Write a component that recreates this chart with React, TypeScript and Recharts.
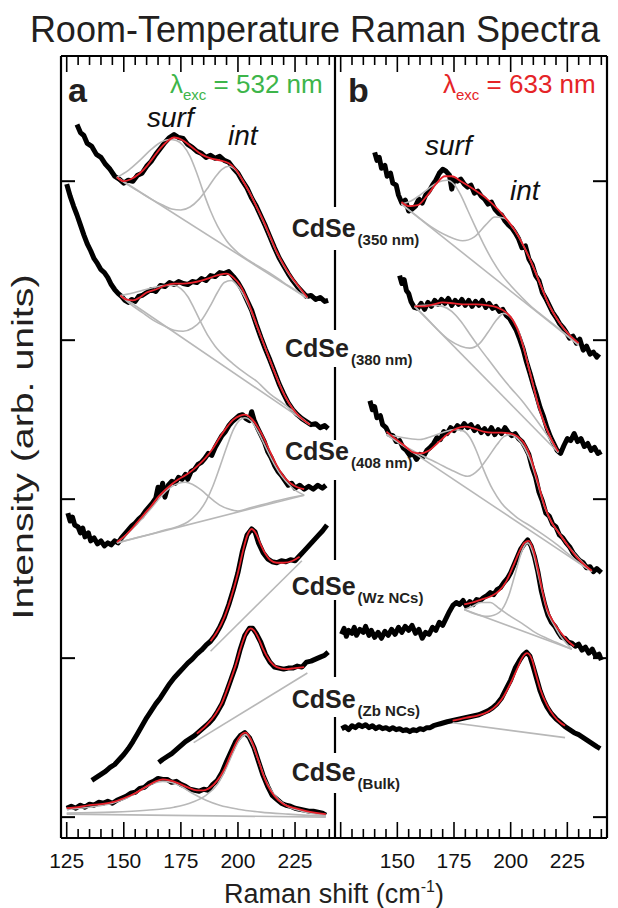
import React from 'react'
import { LineChart, Line, XAxis, YAxis } from 'recharts'

type Pt = [number, number]

// axis ticks: Raman shift (cm-1) and intensity (arb. units)
const xTicks = [125, 130, 135, 140, 145, 150, 155, 160, 165, 170, 175, 180, 185, 190, 195, 200, 205, 210, 215, 220, 225, 230, 235, 240]
const xMajor = [125, 150, 175, 200, 225]
const yTicks = [0, 160, 320, 480, 640]

// ---- panel a (532 nm) ----
const a350Raw: Pt[] = [[129.5,697],[131,689],[132.5,686],[134,678],[136,675],[138,667],[140,664],[142,657],[144,652],[146,645],[148,642],[150,638],[152,641],[154,640],[156,646],[158,648],[160,655],[162,660],[164,667],[166,673],[168,679],[170,684],[172,687],[174,684],[176,683],[178,677],[180,674],[182,670],[184,668],[186,664],[188,666],[190,663],[192,665],[194,661],[196,659],[198,653],[200,648],[202,640],[204,633],[206,623],[208,615],[210,605],[212,595],[214,584],[216,573],[218,563],[220,555],[222,547],[224,540],[226,534],[228,529],[230,524],[232,525],[234,521],[236,523],[238,519],[239.5,520]]
const a350Fit: Pt[] = [[147,644],[150,640],[153,642],[157,648],[160,655],[163,664],[166,673],[169,680],[172,684],[176,681],[180,674],[184,667],[188,663],[192,661],[196,658],[199,652],[202,641],[205,629],[208,615],[211,601],[214,585],[217,569],[220,556],[223,545],[226,536],[230.4,523]]
const a350Base: Pt[] = [[147,644],[230.4,522]]
const a350Surf: Pt[] = [[147,644],[152,651],[157,661],[162,672],[166,679],[170,682],[173,681],[176,676],[179,665],[182,648],[185,628],[188,610],[191,595],[195,580],[200,568],[205,560],[210,553],[215,546],[220,538],[225,530.5],[230.4,522]]
const a350Int: Pt[] = [[147,644],[152,636],[157,629],[162,622],[167,616],[171,612],[175,611],[179,614],[183,622],[187,634],[190,644],[193,652],[196,655],[199,651],[202,641],[205,629],[208,615],[211,600],[214,584],[217,568],[220,555],[223,544],[226,535],[230.4,522]]

const a380Raw: Pt[] = [[125,637],[126.5,625],[128,615],[129.5,606],[131,596],[132.5,586],[134,577],[135.5,570],[137,562],[138.5,557],[140,551],[141.5,548],[143,543],[144.5,536],[146,531],[147.5,527],[149,524],[150.5,520],[152,518],[153.5,521],[155,519],[156.5,524],[158,525],[160,528],[162,531],[164,529],[166,535],[168,534],[170,538],[172,536],[174,539],[176,537],[178,536],[180,539],[182,538],[184,542],[186,540],[188,545],[190,544],[192,548],[194,547],[196,549],[198,544],[200,538],[202,530],[204,520],[206,510],[208,496],[210,483],[212,471],[214,460],[216,448],[218,436],[220,426],[222,417],[224,410],[226,405],[228,401],[230,398],[232,395],[234,396],[236,392],[238,394],[239.5,391]]
const a380Fit: Pt[] = [[148.5,525],[151,521],[154,520],[157,523],[160,528],[164,531],[168,535],[172,537],[176,537],[180,538],[184,540],[188,543],[192,546],[195,547],[198,543],[201,535],[204,521],[207,503],[210,484],[213,466],[216,448],[219,431],[222,418],[225,408],[228,401],[231.5,395]]
const a380Base: Pt[] = [[148.5,525],[231.5,395]]
const a380Surf: Pt[] = [[148.5,525],[153,527],[158,530],[163,533],[168,535],[172,535],[175,532],[178,524],[181,511],[184,497],[187,484],[190,474],[194,464],[198,456],[203,447],[208,439],[214,426],[220,416],[226,405],[231.5,395]]
const a380Int: Pt[] = [[148.5,525],[153,516],[158,508],[163,500],[168,494],[172,490],[176,489],[180,492],[184,500],[188,515],[191,528],[194,538],[197,540],[200,534],[203,523],[206,508],[209,490],[212,472],[215,454],[218,437],[221,422],[224,411],[227,403],[231.5,395]]

const a408Raw: Pt[] = [[125.5,306],[126.5,298],[127.5,302],[128.5,294],[130,292],[131,286],[132,291],[133,282],[134.5,286],[135.5,278],[137,281],[138.5,275],[140,278],[141.5,273],[143,276],[144.5,274],[146,278],[147.5,276],[149,281],[150.5,285],[152,289],[153.5,293],[155,296],[156.5,300],[158,303],[159.5,308],[161,312],[162.5,316],[164,321],[165,332],[166,326],[167,336],[168,322],[169.5,334],[171,338],[172.5,336],[174,342],[175.5,340],[177,345],[178,340],[179.5,348],[181,350],[182.5,355],[184,357],[185.5,361],[187,366],[188.5,364],[190,372],[191.5,378],[193,384],[194.5,388],[196,394],[197.5,398],[199,401],[200.5,404],[202,405],[203.5,401],[205,399],[206,408],[207,400],[208.5,392],[210,385],[211.5,378],[213,368],[214.5,362],[216,354],[217.5,348],[219,344],[220.5,339],[222,334],[223.5,336],[225,331],[227,334],[229,330],[231,333],[233,330],[235,334],[237,331],[238.5,334]]
const a408Fit: Pt[] = [[147,277],[150,282],[153,289],[156,297],[159,305],[162,313],[165,322],[168,329],[171,335],[174,340],[177,344],[180,349],[183,355],[186,362],[189,371],[192,382],[195,392],[198,400],[201,404],[203,405],[205,403],[208,395],[211,383],[214,368],[217,354],[220,343],[223,336],[226,332],[229,330]]
const a408Base: Pt[] = [[147,276],[229,324]]
const a408Surf: Pt[] = [[147,276],[152,286],[157,298],[162,311],[166,322],[170,331],[174,336],[177,337],[180,335],[184,329],[188,321],[192,314],[196,310],[200,308],[205,311],[210,314],[215,317],[220,320],[225,322.5],[229,324]]
const a408Int: Pt[] = [[147,276],[155,281],[162,285],[168,289],[173,292],[178,297],[182,305],[186,318],[189,333],[192,352],[195,372],[198,390],[201,400],[203,402],[206,398],[209,387],[212,373],[215,359],[218,347],[221,338],[224,331],[229,324]]

const aWzRaw: Pt[] = [[136,37],[138,40],[140,43],[142,46],[144,50],[146,53],[148,58],[150,63],[152,69],[154,76],[156,84],[158,92],[160,100],[162,107],[164,114],[166,120],[168,127],[170,134],[172,140],[174,145],[176,150],[178,155],[180,159],[182,164],[184,168],[186,173],[188,177],[190,183],[192,191],[194,201],[196,214],[198,229],[200,246],[202,268],[204,284],[206,290],[207.5,287],[209,276],[211,266],[213,260],[215,257],[217,256],[219,258],[221,257],[223,259],[225,258],[227,263],[229,268],[231,273],[233,278],[235,283],[237,288],[239,294]]
const aWzFit: Pt[] = [[188,177],[191,187],[194,201],[197,221],[200,246],[202,266],[204,283],[206,290],[208,285],[210,274],[212,265],[214,259],[217,256],[220,256],[224,258],[227,262]]
const aWzBase: Pt[] = [[188,167],[228,258]]

const aZbRaw: Pt[] = [[165.3,55],[167,58],[169,61],[171,64],[173,68],[175,72],[177,76],[179,79],[181,82],[183,86],[185,90],[187,94],[189,99],[191,106],[193,114],[195,126],[197,139],[199,152],[201,169],[203,183],[205,190],[206.5,190],[208,185],[210,176],[212,164],[214,156],[216,151],[218,150],[220,149],[222,150],[224,150],[226,152],[228,151],[230,156],[232,157],[234,159],[236,161],[238,163],[239.5,166]]
const aZbFit: Pt[] = [[182,84],[186,92],[190,103],[193,115],[196,133],[199,153],[202,176],[204,187],[205.5,190],[207,188],[209,180],[211,169],[214,157],[217,151],[221,149],[225,150],[229,151]]
const aZbBase: Pt[] = [[180.6,75],[230.4,145]]

const aBulkRaw: Pt[] = [[125,9],[127,11],[129,9],[131,12],[133,10],[135,13],[137,12],[139,15],[141,14],[143,16],[145,14],[147,17],[149,19],[151,21],[153,24],[155,25],[157,29],[159,30],[161,34],[163,36],[165,39],[167,38],[169,38],[171,35],[173,36],[175,33],[177,31],[179,28],[181,27],[183,26],[185,28],[187,27],[189,33],[191,37],[193,45],[195,56],[197,66],[199,76],[201,82],[203,85],[205,80],[207,70],[209,56],[211,42],[213,31],[215,22],[217,18],[219,14],[221,12],[223,11],[225,9],[227,8],[229,7],[231,6],[233,6],[235,5],[237,4],[238.5,2]]
const aBulkFit: Pt[] = [[125,9],[130,10],[135,12],[140,13],[145,15],[150,19],[155,24],[160,31],[164,36],[167,38],[170,37],[174,34],[178,30],[182,27],[185,27],[188,30],[191,37],[194,48],[197,64],[200,78],[202,84],[203.5,85],[205,81],[207,71],[209,57],[211,43],[213,32],[216,21],[220,13],[225,9],[230,6],[238.5,3]]
const aBulkBase: Pt[] = [[125,3],[238.5,0]]
const aBulkSurf: Pt[] = [[125,8],[135,10],[145,14],[152,20],[158,28],[163,34],[167,36],[171,35],[175,31],[180,24],[186,17],[192,12],[200,8],[210,5],[222,3],[238.5,1]]
const aBulkInt: Pt[] = [[125,4],[145,5],[160,7],[172,10],[180,15],[186,22],[191,33],[195,50],[198,66],[201,79],[203.5,83],[206,75],[209,57],[212,38],[216,22],[221,12],[228,6],[238.5,2]]

// ---- panel b (633 nm) ----
const b350Raw: Pt[] = [[140,669],[141,661],[142,664],[143,653],[144.5,656],[145.5,645],[147,648],[148,638],[149.5,636],[150.5,626],[152,618],[153.5,621],[155,610],[156.5,612],[158,615],[159.5,622],[161,618],[162.5,626],[164,630],[165.5,636],[167,641],[168.5,648],[170,652],[171.5,650],[173,646],[174,632],[175,642],[176.5,640],[178,642],[179.5,637],[181,634],[182.5,636],[184,628],[185.5,630],[187,625],[188.5,622],[190,617],[191.5,619],[193,612],[194.5,608],[196,606],[197.5,600],[199,596],[200.5,593],[202,588],[203.5,582],[205,573],[206.5,575],[208,562],[209.5,556],[211,545],[212.5,540],[214,528],[215.5,522],[217,515],[218.5,508],[220,503],[221.5,497],[223,493],[224.5,488],[226,482],[227.5,484],[229,477],[230.5,481],[232,470],[233.5,474],[235,466],[236.5,468],[238,463],[239,466]]
const b350Fit: Pt[] = [[151.8,619],[155,615],[159,616],[163,625],[167,637],[171,645],[174,645],[178,640],[183,633],[188,625],[193,615],[197,605],[202,590],[205,578],[208,564],[211,548],[214,531],[217,515],[220,503],[223,493],[226,485],[230,477]]
const b350Base: Pt[] = [[151.8,617],[230,475]]
const b350Surf: Pt[] = [[151.8,617],[156,620],[160,626],[164,633],[168,639],[172,641],[175,637],[178,626],[181,611],[184,596],[188,577],[192,560],[196,546],[200,535],[205,523],[210,512],[215,503],[220,494],[225,484.5],[230,475]]
const b350Int: Pt[] = [[151.8,617],[158,606],[165,594],[172,585],[178.8,580],[184,584],[189,596],[193,604],[197,603],[201,593],[205,578],[208,564],[211,548],[214,531],[217,515],[220,503],[223,493],[226,485],[230,476]]

const b380Raw: Pt[] = [[151,545],[152,537],[153,541],[154,530],[155,527],[156,519],[157.5,513],[159,512],[160.5,517],[162,511],[163.5,518],[165,514],[166.5,520],[168,516],[169.5,521],[171,517],[172.5,522],[174,515],[175.5,520],[177,516],[178.5,521],[180,515],[181.5,520],[183,514],[184.5,519],[186,515],[187.5,520],[189,513],[190.5,517],[192,512],[193.5,514],[195,509],[196.5,511],[198,505],[199.5,502],[201,496],[202.5,490],[204,481],[205.5,471],[207,458],[208.5,447],[210,435],[211.5,424],[213,412],[214.5,403],[216,392],[217.5,383],[219,376],[220.5,369],[222,366],[223.5,374],[225,381],[226.5,379],[228,386],[229.5,378],[231,381],[232.5,373],[234,376],[235.5,369],[237,372],[238.5,366],[240,368]]
const b380Fit: Pt[] = [[157.6,514],[162,514],[166,516],[170,518],[175,517],[180,516],[185,516],[190,515],[194,513],[198,508],[201,500],[204,485],[206,470],[208,452],[210,434],[212,416],[214,402],[216,390],[218,380],[221,368]]
const b380Base: Pt[] = [[157.6,514],[221,367]]
const b380Surf: Pt[] = [[157.6,514],[162,515],[166,515],[170,514],[174,509],[178,499],[182,486],[186,473],[190,461],[195,446],[200,432],[205,419],[210,404],[215,388],[221,367]]
const b380Int: Pt[] = [[157.6,514],[163,502],[168,490],[173,480],[178,474],[182,472],[186,476],[190,488],[194,501],[197,507],[200,503],[203,492],[206,470],[208,452],[210,434],[212,416],[214,402],[216,390],[218,380],[221,367]]

const b408Raw: Pt[] = [[137.9,419],[139,410],[140,413],[141,402],[142.5,404],[143.5,395],[145,392],[146.5,385],[148,384],[149.5,378],[151,379],[152.5,372],[154,369],[155.5,364],[157,366],[158.5,360],[160,365],[161.5,363],[163,369],[164.5,372],[166,376],[167.5,382],[169,380],[170.5,388],[172,386],[173.5,392],[175,389],[176.5,394],[178,391],[179.5,396],[181,392],[182.5,395],[184,389],[185.5,393],[187,387],[188.5,391],[190,386],[191.5,392],[193,385],[194.5,390],[196,386],[197.5,392],[199,387],[200.5,384],[202,386],[203.5,381],[205,378],[206.5,372],[208,365],[209.5,352],[211,342],[212.5,327],[214,318],[215.5,306],[217,303],[218.5,295],[220,292],[221.5,284],[223,281],[224.5,276],[226,272],[227.5,266],[229,262],[230.5,258],[232,256],[233.5,251],[235,252],[236.5,247],[238,250],[240,246]]
const b408Fit: Pt[] = [[145.2,388],[149,381],[153,374],[157,367],[160,366],[164,369],[168,377],[172,385],[176,391],[180,393],[184,391],[188,388],[192,387],[196,387],[200,386],[203,383],[206,376],[209,361],[212,337],[215,313],[218,297],[221,287],[225,274],[229,262],[233,253],[235.8,248]]
const b408Base: Pt[] = [[145.2,385],[235.8,247]]
const b408Surf: Pt[] = [[145.2,385],[150,383],[155,381],[160,380],[165,383],[170,387],[175,390],[178.8,389],[182,382],[185,368],[188,350],[192,330],[196,316],[202,303],[210,291],[220,275],[228,260],[235.8,247]]
const b408Int: Pt[] = [[145.2,385],[152,375],[160,365],[168,356],[175,348],[181,343],[186,350],[190,362],[194,375],[197,383],[200,385],[203,381],[206,372],[209,357],[212,335],[215,312],[218,297],[221,287],[225,274],[229,263],[235.8,247]]

const bWzRaw: Pt[] = [[125.4,184],[126.5,190],[127.5,182],[128.5,188],[130,185],[131,191],[132,183],[133.5,189],[135,186],[136,192],[137.5,183],[138.5,188],[140,181],[141.5,186],[143,180],[144.5,187],[146,183],[147.5,189],[149,184],[150.5,191],[152,186],[153.5,192],[155,188],[156.5,193],[158,185],[159.5,189],[161,180],[162.5,186],[164,184],[165.5,191],[167,188],[168.5,196],[170,193],[171.5,200],[173,207],[174.5,213],[176,216],[177.5,214],[179,218],[180.5,212],[182,217],[183.5,214],[185,219],[186.5,218],[188,221],[189.5,223],[191,226],[192.5,224],[194,229],[195.5,231],[197,236],[198.5,240],[200,246],[201.5,254],[203,262],[204.5,270],[206,275],[207.5,279],[209,273],[210.5,262],[212,247],[213.5,228],[215,214],[216.5,203],[218,196],[219.5,192],[221,186],[222.5,181],[224,180],[225.5,176],[227,175],[228.5,172],[230,174],[231.5,168],[233,171],[234.5,165],[236,169],[237.5,162],[239,164],[240,158]]
const bWzFit: Pt[] = [[179.5,214],[183,216],[187,219],[191,222],[195,228],[198,237],[201,252],[204,268],[206,276],[208,278],[210,269],[212,250],[214,228],[216,210],[219,196],[222,186],[225,178],[228,172]]
const bWzBase: Pt[] = [[179.5,209],[227,169]]
const bWzSurf: Pt[] = [[179.5,209],[183,212],[187,216],[191,216],[195,210],[200,202],[205,195],[210,187],[215,181],[220,176],[227,169]]
const bWzInt: Pt[] = [[179.5,209],[185,204],[190,202],[195,206],[199,222],[202,245],[205,268],[207.5,276],[210,265],[212,246],[214,226],[216,208],[219,194],[222,182],[225,174],[227,169]]

const bZbRaw: Pt[] = [[125.4,89],[127,91],[128.5,88],[130,92],[131.5,90],[133,93],[134.5,91],[136,93],[137.5,90],[139,92],[140.5,89],[142,91],[143.5,89],[145,90],[146.5,88],[148,90],[149.5,88],[151,89],[152.5,87],[154,88],[155.5,86],[157,88],[158.5,87],[160,89],[161.5,88],[163,90],[164.5,90],[166,92],[167.5,93],[169,94],[170.5,95],[172,96],[174,97],[176,98],[178,99],[180,100],[182,101],[184,102],[186,103],[188,105],[190,107],[192,110],[194,114],[196,120],[198,129],[200,138],[202,150],[204,158],[205.5,163],[207,166],[208.5,162],[210,151],[211.5,139],[213,127],[214.5,118],[216,111],[218,104],[220,99],[222,95],[224,91],[226,88],[228,85],[230,83],[232,80],[234,77],[236,74],[238,71],[239.5,69]]
const bZbFit: Pt[] = [[174.4,97],[180,100],[185,102],[190,106],[194,113],[197,122],[200,135],[203,150],[205,160],[207.3,165],[209.5,158],[211,145],[213,129],[216,113],[219,102],[222,95],[224,92]]
const bZbBase: Pt[] = [[174.4,95],[224,80]]

type Spec = { id: string; raw: Pt[]; fit: Pt[]; parts: Pt[][] }

const panelA: Spec[] = [
  { id: 'a350', raw: a350Raw, fit: a350Fit, parts: [a350Base, a350Surf, a350Int] },
  { id: 'a380', raw: a380Raw, fit: a380Fit, parts: [a380Base, a380Surf, a380Int] },
  { id: 'a408', raw: a408Raw, fit: a408Fit, parts: [a408Base, a408Surf, a408Int] },
  { id: 'aWz', raw: aWzRaw, fit: aWzFit, parts: [aWzBase] },
  { id: 'aZb', raw: aZbRaw, fit: aZbFit, parts: [aZbBase] },
  { id: 'aBulk', raw: aBulkRaw, fit: aBulkFit, parts: [aBulkBase, aBulkSurf, aBulkInt] },
]

const panelB: Spec[] = [
  { id: 'b350', raw: b350Raw, fit: b350Fit, parts: [b350Base, b350Surf, b350Int] },
  { id: 'b380', raw: b380Raw, fit: b380Fit, parts: [b380Base, b380Surf, b380Int] },
  { id: 'b408', raw: b408Raw, fit: b408Fit, parts: [b408Base, b408Surf, b408Int] },
  { id: 'bWz', raw: bWzRaw, fit: bWzFit, parts: [bWzBase, bWzSurf, bWzInt] },
  { id: 'bZb', raw: bZbRaw, fit: bZbFit, parts: [bZbBase] },
]

const FONT = '"Liberation Sans", Arial, Helvetica, sans-serif'
const RED = '#e8212b'
const GRAY = '#b8b8b8'
const X_MIN = 122.5
const X_MAX = 242.5
// plot boxes of the two panels (page px), shared by the charts and the tick overlay
const PLOT_TOP = 56
const PLOT_BOTTOM = 838
const BOX_A = [61, 335]
const BOX_B = [335, 607]

const toPts = (arr: Pt[]) => arr.map(([x, v]) => ({ x, v }))

function lines(specs: Spec[]) {
  const out: React.ReactElement[] = []
  specs.forEach(s => out.push(
    <Line key={s.id + 'raw'} data={toPts(s.raw)} dataKey="v" xAxisId="bot" yAxisId="left" type="linear"
      stroke="#000" strokeWidth={5} strokeLinejoin="round" dot={false} isAnimationActive={false} />
  ))
  specs.forEach(s => s.parts.forEach((p, i) => out.push(
    <Line key={s.id + 'g' + i} data={toPts(p)} dataKey="v" xAxisId="bot" yAxisId="left"
      type={p.length > 2 ? 'monotone' : 'linear'} stroke={GRAY} strokeWidth={1.6} dot={false} isAnimationActive={false} />
  )))
  specs.forEach(s => out.push(
    <Line key={s.id + 'fit'} data={toPts(s.fit)} dataKey="v" xAxisId="bot" yAxisId="left" type="monotone"
      stroke={RED} strokeWidth={1.8} dot={false} isAnimationActive={false} />
  ))
  return out
}

const labelTick = (labels: number[]) => (props: any) => {
  const { x, y, payload } = props
  if (!labels.includes(payload.value)) return <g />
  return <text x={x} y={y + 30} textAnchor="middle" fontSize={21} fontFamily={FONT} fill="#111">{payload.value}</text>
}

const yTick = (dir: number) => (props: any) => {
  const { x, y } = props
  return <line x1={x} x2={x + dir * 14} y1={y} y2={y} stroke="#000" strokeWidth={2} />
}

const frame = { stroke: '#000', strokeWidth: 2.2 }

function Panel({ specs, left, width, margin, side }: { specs: Spec[]; left: number; width: number; margin: any; side: 'a' | 'b' }) {
  return (
    <div style={{ position: 'absolute', left, top: 0 }}>
      <LineChart width={width} height={908} margin={margin}>
        <XAxis xAxisId="bot" type="number" dataKey="x" domain={[X_MIN, X_MAX]} allowDataOverflow ticks={xMajor} interval={0}
          height={1} tickSize={0} tickMargin={0} tickLine={false} axisLine={frame}
          tick={labelTick(side === 'a' ? xMajor : [150, 175, 200, 225])} />
        <XAxis xAxisId="top" orientation="top" type="number" dataKey="x" domain={[X_MIN, X_MAX]} allowDataOverflow ticks={xMajor} interval={0}
          height={1} tickSize={0} tickMargin={0} tickLine={false} axisLine={frame} tick={false} />
        <YAxis yAxisId="left" type="number" domain={[-21, 766]} allowDataOverflow ticks={yTicks} interval={0} width={1}
          tickSize={0} tickMargin={0} tickLine={false}
          axisLine={side === 'a' ? frame : false}
          tick={side === 'a' ? yTick(1) : false} />
        <YAxis yAxisId="right" orientation="right" type="number" domain={[-21, 766]} allowDataOverflow ticks={yTicks} interval={0} width={1}
          tickSize={0} tickMargin={0} tickLine={false} axisLine={frame}
          tick={side === 'b' ? yTick(-1) : false} />
        {lines(specs)}
      </LineChart>
    </div>
  )
}

// inward x tick marks on the top and bottom frame edges of one panel
function TickComb({ box }: { box: number[] }) {
  const [x0, x1] = box
  return (
    <g stroke="#000" strokeWidth={1.6}>
      {xTicks.map(t => {
        const px = x0 + ((t - X_MIN) / (X_MAX - X_MIN)) * (x1 - x0)
        const len = xMajor.includes(t) ? 16 : 9
        return (
          <g key={t}>
            <line x1={px} x2={px} y1={PLOT_BOTTOM} y2={PLOT_BOTTOM - len} />
            <line x1={px} x2={px} y1={PLOT_TOP} y2={PLOT_TOP + len} />
          </g>
        )
      })}
    </g>
  )
}

const sampleLabels = [
  { x: 291.7, y: 237, sub: '(350 nm)' },
  { x: 285, y: 357, sub: '(380 nm)' },
  { x: 285, y: 460, sub: '(408 nm)' },
  { x: 291.7, y: 595, sub: '(Wz NCs)' },
  { x: 291.7, y: 708, sub: '(Zb NCs)' },
  { x: 291.7, y: 781, sub: '(Bulk)' },
]
const dividerGaps = [[207, 43], [330, 37], [440, 40], [560, 40], [677, 40], [753, 40]]

export default function App() {
  return (
    <div style={{ position: 'absolute', left: 0, top: 0, width: 618, height: 908, background: '#fff' }}>
      <Panel specs={panelA} side="a" left={0} width={345} margin={{ top: 55, left: 60, right: 9, bottom: 69 }} />
      <Panel specs={panelB} side="b" left={300} width={318} margin={{ top: 55, left: 34, right: 10, bottom: 69 }} />
      <svg width={618} height={908} style={{ position: 'absolute', left: 0, top: 0, pointerEvents: 'none' }} fontFamily={FONT}>
        <TickComb box={BOX_A} />
        <TickComb box={BOX_B} />
        <text x={315} y={42} textAnchor="middle" fontSize={36} fill="#231f20">Room-Temperature Raman Spectra</text>
        <text transform="translate(33,447) rotate(-90)" textAnchor="middle" fontSize={29} textLength={345}
          lengthAdjust="spacingAndGlyphs" fill="#231f20">Intensity (arb. units)</text>
        <text x={334} y={903} textAnchor="middle" fontSize={27} fill="#231f20">
          Raman shift (cm<tspan fontSize={16} dy={-11}>-1</tspan><tspan dy={11}>)</tspan>
        </text>
        <text x={68} y={102} fontSize={34} fontWeight="bold" fill="#231f20">a</text>
        <text x={348} y={102} fontSize={34} fontWeight="bold" fill="#231f20">b</text>
        <text x={170} y={93} fontSize={26} fill="#3db54a">
          λ<tspan fontSize={15} dy={7}>exc</tspan><tspan dy={-7}> = 532 nm</tspan>
        </text>
        <text x={443} y={93} fontSize={26} fill="#e52427">
          λ<tspan fontSize={15} dy={7}>exc</tspan><tspan dy={-7}> = 633 nm</tspan>
        </text>
        <text x={147} y={127} fontSize={28} fontStyle="italic" fill="#111">surf</text>
        <text x={228} y={145} fontSize={28} fontStyle="italic" fill="#111">int</text>
        <text x={425} y={155} fontSize={28} fontStyle="italic" fill="#111">surf</text>
        <text x={510} y={200} fontSize={28} fontStyle="italic" fill="#111">int</text>
        {dividerGaps.map(([y, h], i) => <rect key={i} x={330} y={y} width={10} height={h} fill="#fff" />)}
        {sampleLabels.map((l, i) => (
          <text key={i} x={l.x} y={l.y} fontSize={25} fontWeight="bold" fill="#231f20">
            CdSe<tspan fontSize={15} dx={2} dy={8}>{l.sub}</tspan>
          </text>
        ))}
      </svg>
    </div>
  )
}
